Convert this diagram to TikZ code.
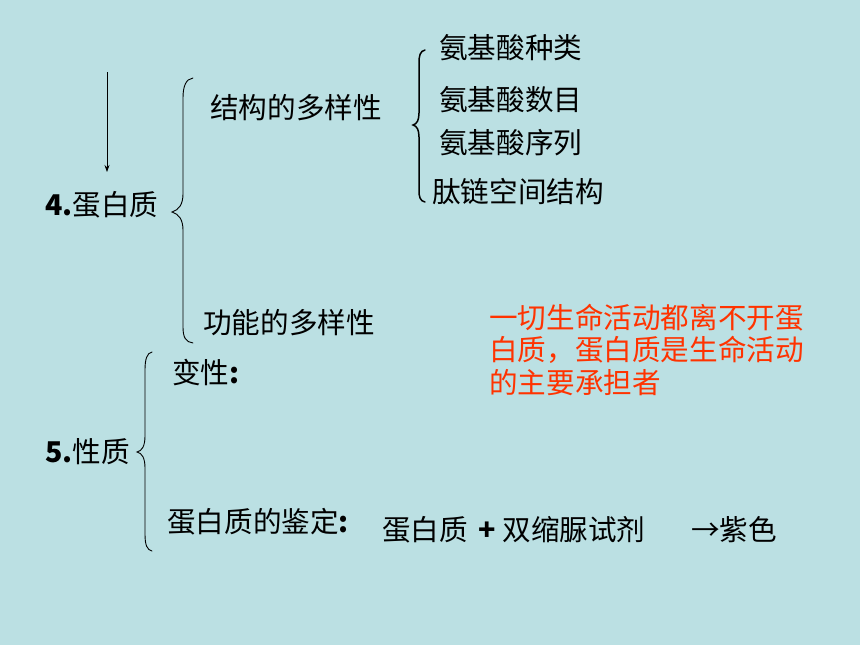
\documentclass[tikz,border=0pt]{standalone}
\usepackage{fontspec}
\setmainfont{Liberation Sans}
\newfontfamily\cjk{Noto Sans CJK SC}
\usetikzlibrary{arrows.meta}
\definecolor{bg}{RGB}{187,224,227}
\definecolor{redtxt}{RGB}{255,51,0}
\begin{document}
\begin{tikzpicture}[x=1pt,y=-1pt,
  txt/.style={inner sep=0pt,anchor=west,font=\fontsize{28.6}{32}\selectfont\cjk},
  redt/.style={txt,text=redtxt},
  bracepath/.style={draw=black,line width=0.9pt,line cap=round}]
\fill[bg] (0,0) rectangle (860,645);
\useasboundingbox (0,0) rectangle (860,645);
% arrow
\coordinate (arrowtop) at (107,72);
\coordinate (arrowbot) at (107,172);
\draw[line width=0.7pt,-{Stealth[length=7pt,width=5pt]}] (arrowtop) -- (arrowbot);
% section 4
\node[txt] (protein) at (45,205) {{\bfseries 4.}蛋白质};
\draw[bracepath] (193,78) .. controls (186,79) and (183,86) .. (183,98) -- (183,194) .. controls (183,204) and (179,210) .. (172,212) .. controls (179,214) and (183,220) .. (183,230) -- (183,327) .. controls (183,338) and (186,342) .. (193,343);
\node[txt] (struct) at (210,108) {结构的多样性};
\node[txt] (func) at (203,323) {功能的多样性};
\draw[bracepath,line width=1.5pt] (425,50) .. controls (420,51) and (419,56) .. (419,63) -- (419,113) .. controls (419,120) and (417,124) .. (413,125) .. controls (417,126) and (419,130) .. (419,137) -- (419,190) .. controls (419,197) and (420,201) .. (425,202);
\node[txt] (kind) at (439,48) {氨基酸种类};
\node[txt] (num) at (439,100) {氨基酸数目};
\node[txt] (seq) at (439,143) {氨基酸序列};
\node[txt] (space) at (432,192) {肽链空间结构};
\node[redt] (r1) at (489,318) {一切生命活动都离不开蛋};
\node[redt] (r2) at (489,350) {白质，蛋白质是生命活动};
\node[redt] (r3) at (489,383) {的主要承担者};
% section 5
\node[txt] (prop) at (45,452) {{\bfseries 5.}性质};
\draw[bracepath] (152,352) .. controls (147,353) and (145,359) .. (145,370) -- (145,436) .. controls (145,446) and (142,451) .. (137,452) .. controls (142,453) and (145,458) .. (145,468) -- (145,534) .. controls (145,545) and (147,550) .. (152,551);
\node[txt] (denat) at (172,373) {变性{\bfseries :}};
\node[txt] (ident) at (167,522) {蛋白质的鉴定{\bfseries :}};
\node[txt] (react) at (382,530) {蛋白质\hspace{10pt}{\bfseries +}\hspace{7pt}双缩脲试剂};
\node[txt] (purple) at (691,530) {→紫色};
\end{tikzpicture}
\end{document}
